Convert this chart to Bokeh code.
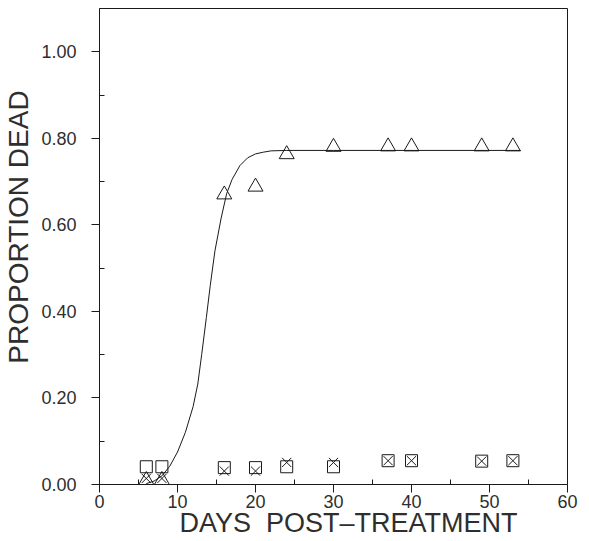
from bokeh.plotting import figure
from bokeh.embed import file_html
from bokeh.resources import INLINE
from bokeh.models import FixedTicker, Range1d

# --- data ---
days = [6, 8, 16, 20, 24, 30, 37, 40, 49, 53]
prop_treated = [0.01, 0.01, 0.67, 0.688, 0.763, 0.78, 0.781, 0.781, 0.781, 0.781]
prop_square = [0.041, 0.041, 0.039, 0.039, 0.041, 0.041, 0.055, 0.055, 0.054, 0.055]
prop_cross = [0.014, 0.014, 0.031, 0.031, 0.051, 0.051, 0.055, 0.055, 0.054, 0.055]

curve_days = [6, 7, 8, 9, 10, 11, 12, 12.6, 13.1, 13.7, 14.2, 14.8, 15.6,
              16.3, 17.0, 18.0, 19.0, 20.0, 21.0, 22.0, 24.0, 30.0, 54.0]
curve_prop = [0.002, 0.008, 0.02, 0.042, 0.075, 0.12, 0.18, 0.232, 0.30, 0.386,
              0.46, 0.54, 0.616, 0.672, 0.705, 0.737, 0.755, 0.764, 0.768, 0.771,
              0.772, 0.772, 0.772]

x_major = [0, 10, 20, 30, 40, 50, 60]
x_minor = [5, 15, 25, 35, 45, 55]
y_major = [0.0, 0.2, 0.4, 0.6, 0.8, 1.0]
y_minor = [0.1, 0.3, 0.5, 0.7, 0.9]
y_labels = ["0.00", "0.20", "0.40", "0.60", "0.80", "1.00"]

FONT = "Liberation Sans"
INK = "#1a1a1a"
TXT = "#2e2e2e"
NB = "\u00a0"

p = figure(width=587, height=540, output_backend="svg", toolbar_location=None,
           x_range=Range1d(0, 60), y_range=Range1d(0, 1.1),
           min_border_left=98, min_border_right=20, min_border_top=8,
           min_border_bottom=56)

p.grid.visible = False
p.outline_line_color = INK
p.outline_line_width = 1
p.background_fill_color = "white"
p.border_fill_color = "white"

p.line(curve_days, curve_prop, line_color=INK, line_width=1)
p.scatter(days, prop_treated, marker="triangle", size=15, fill_color=None,
          line_color=INK, line_width=1)
p.scatter(days, prop_square, marker="square", size=12, fill_color=None,
          line_color=INK, line_width=1)
p.scatter(days, prop_cross, marker="x", size=13, fill_color=None,
          line_color=INK, line_width=1)

for ax in (p.xaxis[0], p.yaxis[0]):
    ax.axis_line_color = INK
    ax.axis_line_width = 1
    ax.major_tick_line_color = INK
    ax.minor_tick_line_color = INK
    ax.major_tick_out = 8
    ax.major_tick_in = 0
    ax.minor_tick_out = 0
    ax.minor_tick_in = 5
    ax.major_label_text_font = FONT
    ax.major_label_text_font_size = "18px"
    ax.major_label_text_color = TXT
    ax.axis_label_text_font = FONT
    ax.axis_label_text_font_style = "normal"
    ax.axis_label_text_color = TXT

p.xaxis[0].axis_label_text_font_size = "27px"
p.yaxis[0].axis_label_text_font_size = "28px"
p.xaxis[0].ticker = FixedTicker(ticks=x_major, minor_ticks=x_minor)
p.yaxis[0].ticker = FixedTicker(ticks=y_major, minor_ticks=y_minor)
p.yaxis[0].major_label_overrides = {v: s for v, s in zip(y_major, y_labels)}
p.xaxis[0].major_label_standoff = 2
p.yaxis[0].major_label_standoff = 15
p.xaxis[0].axis_label_standoff = -3
p.yaxis[0].axis_label_standoff = 4
p.xaxis[0].axis_label = NB * 4 + "DAYS" + NB * 2 + "POST\u2013TREATMENT"
p.yaxis[0].axis_label = NB * 5 + "PROPORTION" + NB + "DEAD"

open("out.html", "w").write(file_html(p, INLINE))
